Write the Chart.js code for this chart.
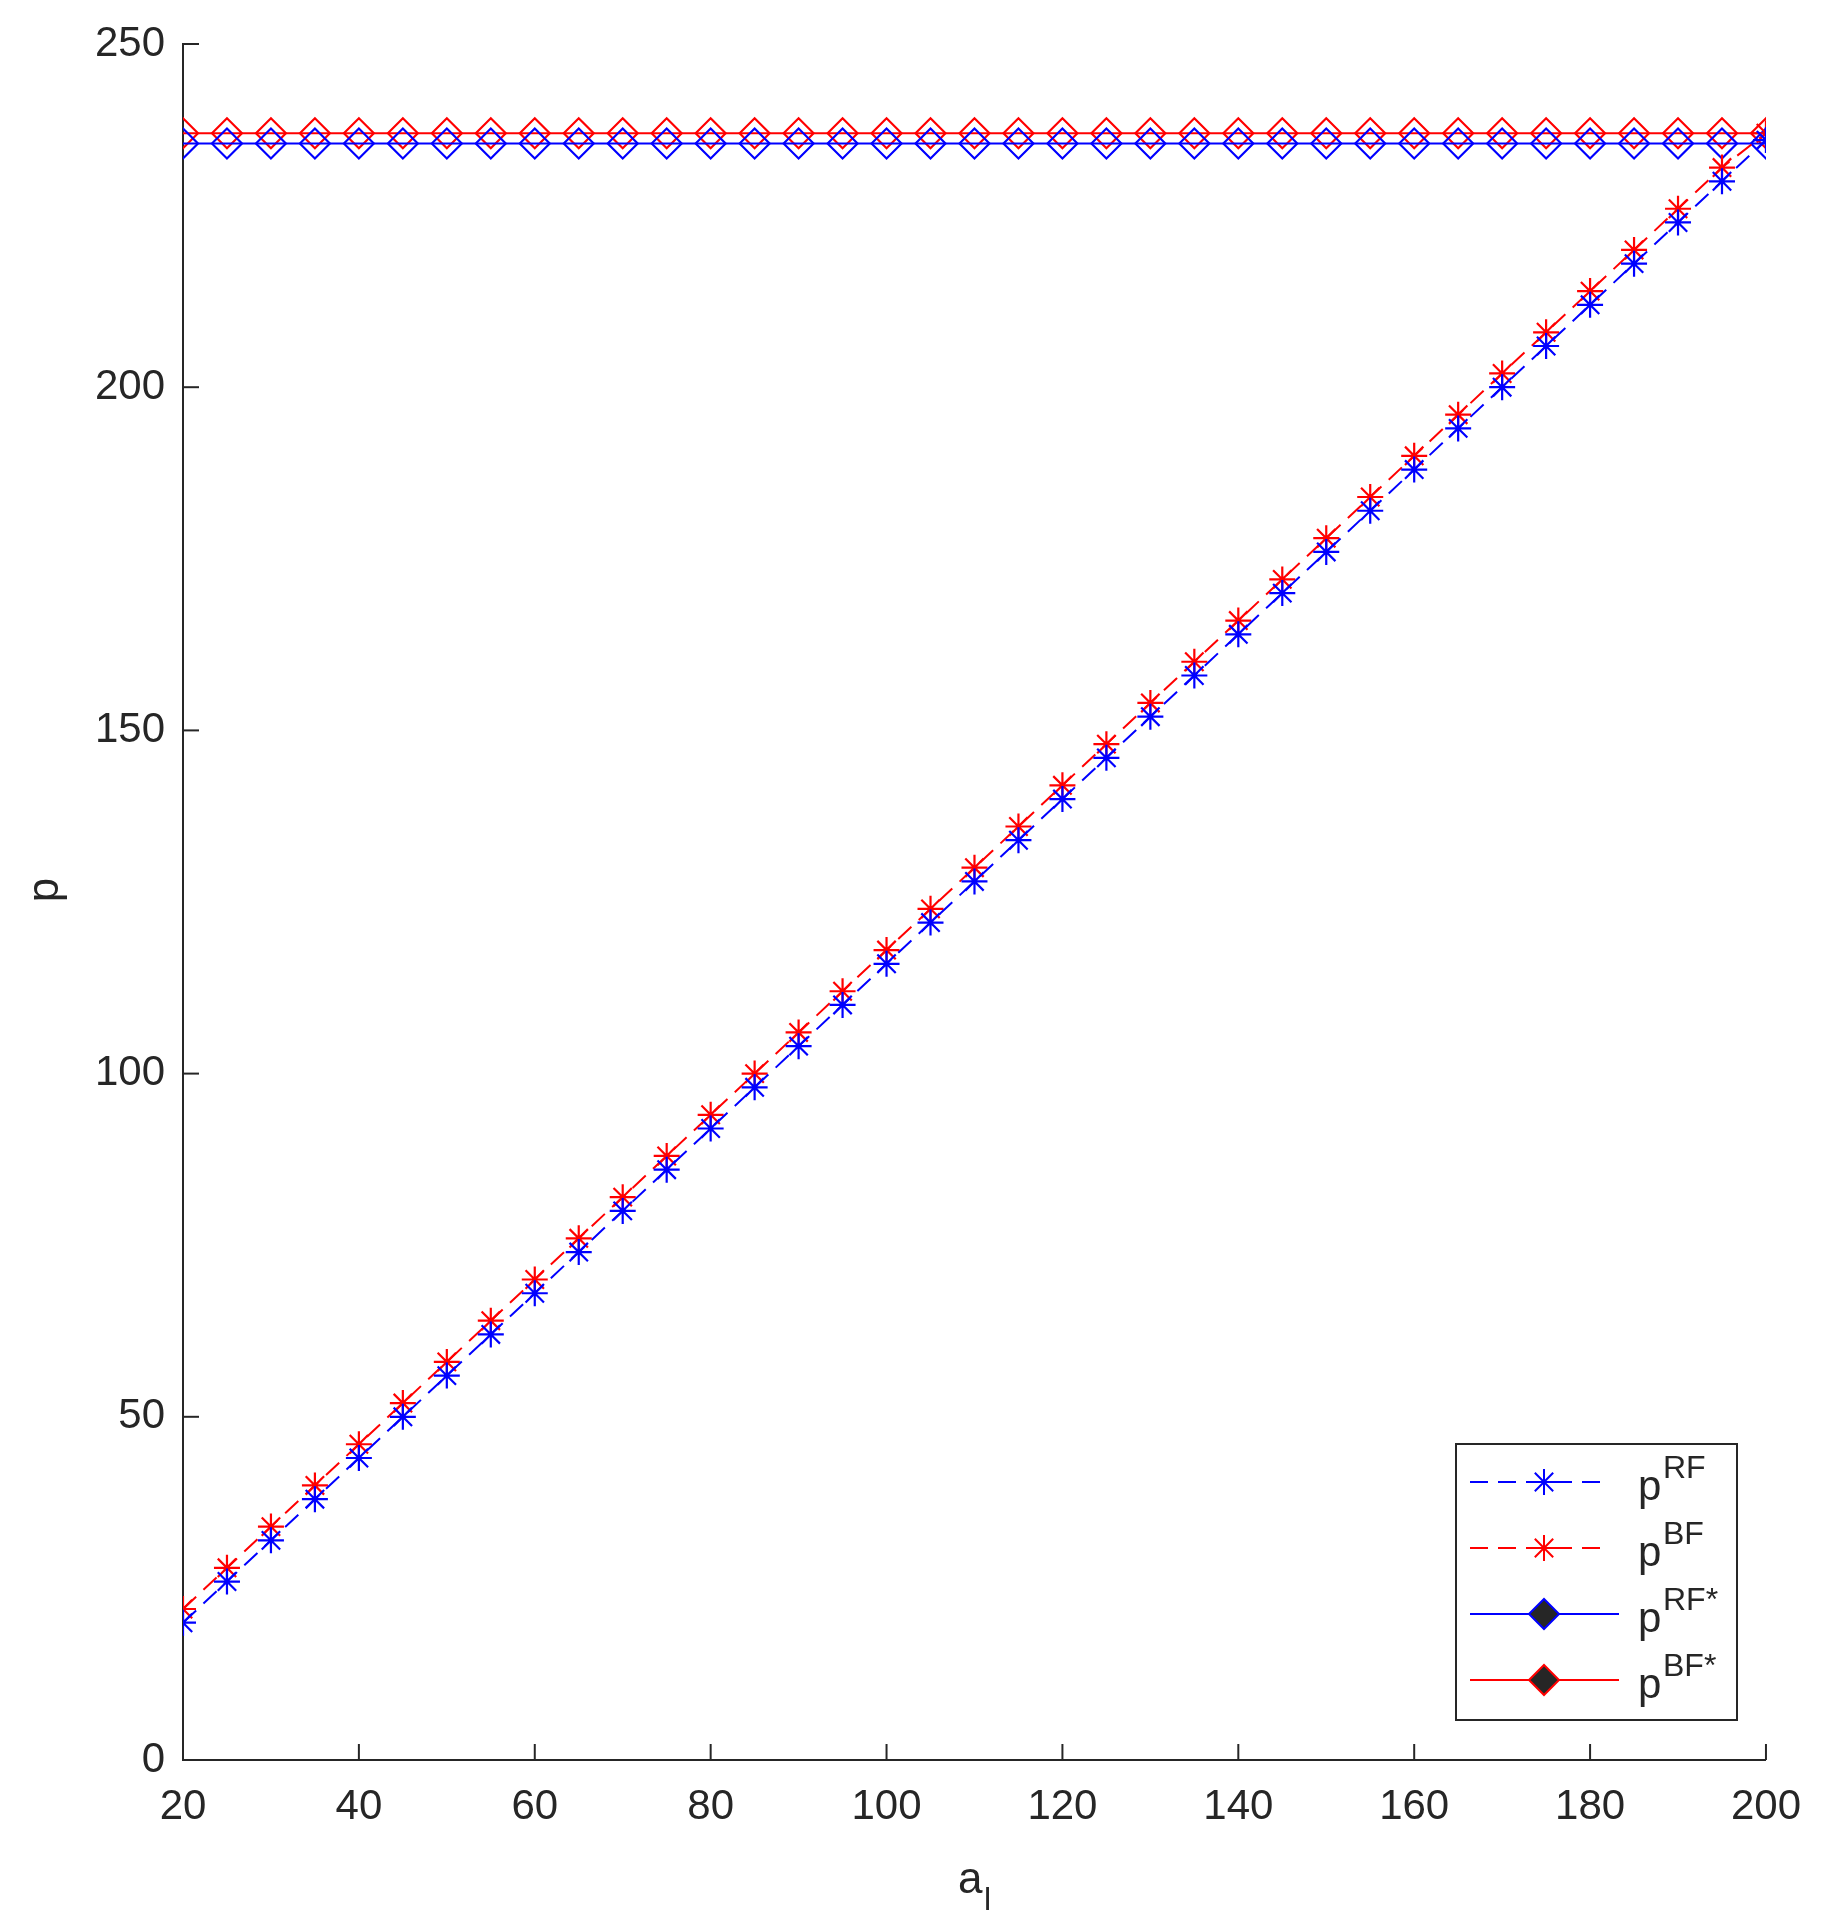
<!DOCTYPE html>
<html><head><meta charset="utf-8">
<script src="https://cdn.jsdelivr.net/npm/chart.js@4"></script>
<style>html,body{margin:0;padding:0;background:#fff}#w{width:1823px;height:1926px}</style>
</head><body><div id="w"><canvas id="c"></canvas></div>
<script>
const aL = [20,25,30,35,40,45,50,55,60,65,70,75,80,85,90,95,100,105,110,115,120,125,130,135,140,145,150,155,160,165,170,175,180,185,190,195,200];
const pRF = [20,26,32,38,44,50,56,62,68,74,80,86,92,98,104,110,116,122,128,134,140,146,152,158,164,170,176,182,188,194,200,206,212,218,224,230,236];
const pBF = [22,28,34,40,46,52,58,64,70,76,82,88,94,100,106,112,118,124,130,136,142,148,154,160,166,172,178,184,190,196,202,208,214,220,226,232,237];
const pRFstar = [235.5,235.5,235.5,235.5,235.5,235.5,235.5,235.5,235.5,235.5,235.5,235.5,235.5,235.5,235.5,235.5,235.5,235.5,235.5,235.5,235.5,235.5,235.5,235.5,235.5,235.5,235.5,235.5,235.5,235.5,235.5,235.5,235.5,235.5,235.5,235.5,235.5];
const pBFstar = [237,237,237,237,237,237,237,237,237,237,237,237,237,237,237,237,237,237,237,237,237,237,237,237,237,237,237,237,237,237,237,237,237,237,237,237,237];
const xTicks = [20,40,60,80,100,120,140,160,180,200];
const yTicks = [0,50,100,150,200,250];
const legendSup = ['RF','BF','RF*','BF*'];

const BLUE='#0000ff', RED='#ff0000', AX='#262626', FONT='"Liberation Sans", Arial, sans-serif';
const mk = (vals)=>aL.map((a,i)=>({x:a,y:vals[i]}));
const series = [
 {label:'pRF',data:mk(pRF),borderColor:BLUE,borderDash:[18,10],pointStyle:'star',color:BLUE},
 {label:'pBF',data:mk(pBF),borderColor:RED,borderDash:[18,10],pointStyle:'star',color:RED},
 {label:'pRF*',data:mk(pRFstar),borderColor:BLUE,borderDash:[],pointStyle:'rectRot',color:BLUE},
 {label:'pBF*',data:mk(pBFstar),borderColor:RED,borderDash:[],pointStyle:'rectRot',color:RED},
];
const datasets = series.map(s=>({label:s.label,data:s.data,borderColor:s.borderColor,borderDash:s.borderDash,
  borderWidth:2,pointStyle:s.pointStyle,pointRadius:s.pointStyle==='star'?13:15,pointBorderColor:s.color,
  pointBackgroundColor:'rgba(0,0,0,0)',pointBorderWidth:2.2,fill:false,tension:0}));

const deco = {id:'deco',afterDraw(ch){
  const c=ch.ctx, xs=ch.scales.x, ys=ch.scales.y, a=ch.chartArea;
  c.save(); c.strokeStyle=AX; c.lineWidth=2;
  xTicks.forEach(v=>{const p=xs.getPixelForValue(v);c.beginPath();c.moveTo(p,a.bottom);c.lineTo(p,a.bottom-16);c.stroke();});
  yTicks.forEach(v=>{const p=ys.getPixelForValue(v);c.beginPath();c.moveTo(a.left,p);c.lineTo(a.left+16,p);c.stroke();});
  // axis titles
  c.fillStyle=AX; c.font='44px '+FONT; c.textBaseline='alphabetic'; c.textAlign='left';
  c.fillText('a',958,1893); c.font='32px '+FONT; c.fillText('l',984,1910);
  c.save(); c.translate(58,890); c.rotate(-Math.PI/2); c.font='44px '+FONT; c.textAlign='center'; c.fillText('p',0,0); c.restore();
  // legend
  const bx=1456,by=1444,bw=281,bh=276;
  c.fillStyle='#fff'; c.fillRect(bx,by,bw,bh); c.strokeStyle=AX; c.lineWidth=2; c.strokeRect(bx,by,bw,bh);
  series.forEach((s,i)=>{
    const y=by+38+i*66, x0=bx+14, x1=bx+163, xm=bx+88;
    c.strokeStyle=s.color; c.lineWidth=2; c.setLineDash(s.borderDash); c.beginPath(); c.moveTo(x0,y); c.lineTo(s.borderDash.length?x1-14:x1,y); c.stroke(); c.setLineDash([]);
    Chart.helpers.drawPoint(c,{pointStyle:s.pointStyle,radius:s.pointStyle==='star'?13:15,borderWidth:2.2},xm,y);
    c.fillStyle=AX; c.font='42px '+FONT; c.textAlign='left'; c.fillText('p',bx+182,y+18);
    c.font='32px '+FONT; c.fillText(legendSup[i],bx+207,y-4);
  });
  c.restore();
}};

new Chart(document.getElementById('c'),{type:'line',data:{datasets},
 options:{responsive:true,maintainAspectRatio:false,animation:false,
  layout:{padding:{left:0,right:48,top:44,bottom:0}},
  plugins:{legend:{display:false},tooltip:{enabled:false}},
  scales:{
   x:{type:'linear',min:20,max:200,afterFit(s){s.height=166;},
      afterBuildTicks(s){s.ticks=xTicks.map(v=>({value:v}));},
      grid:{display:true,drawOnChartArea:false,drawTicks:false},border:{color:AX,width:2},
      ticks:{color:AX,font:{size:42,family:FONT},padding:22,maxRotation:0}},
   y:{type:'linear',min:0,max:250,afterFit(s){s.width=183;},
      afterBuildTicks(s){s.ticks=yTicks.map(v=>({value:v}));},
      grid:{display:true,drawOnChartArea:false,drawTicks:false},border:{color:AX,width:2},
      ticks:{color:AX,font:{size:42,family:FONT},padding:18}}
  }},plugins:[deco]});
</script></body></html>
